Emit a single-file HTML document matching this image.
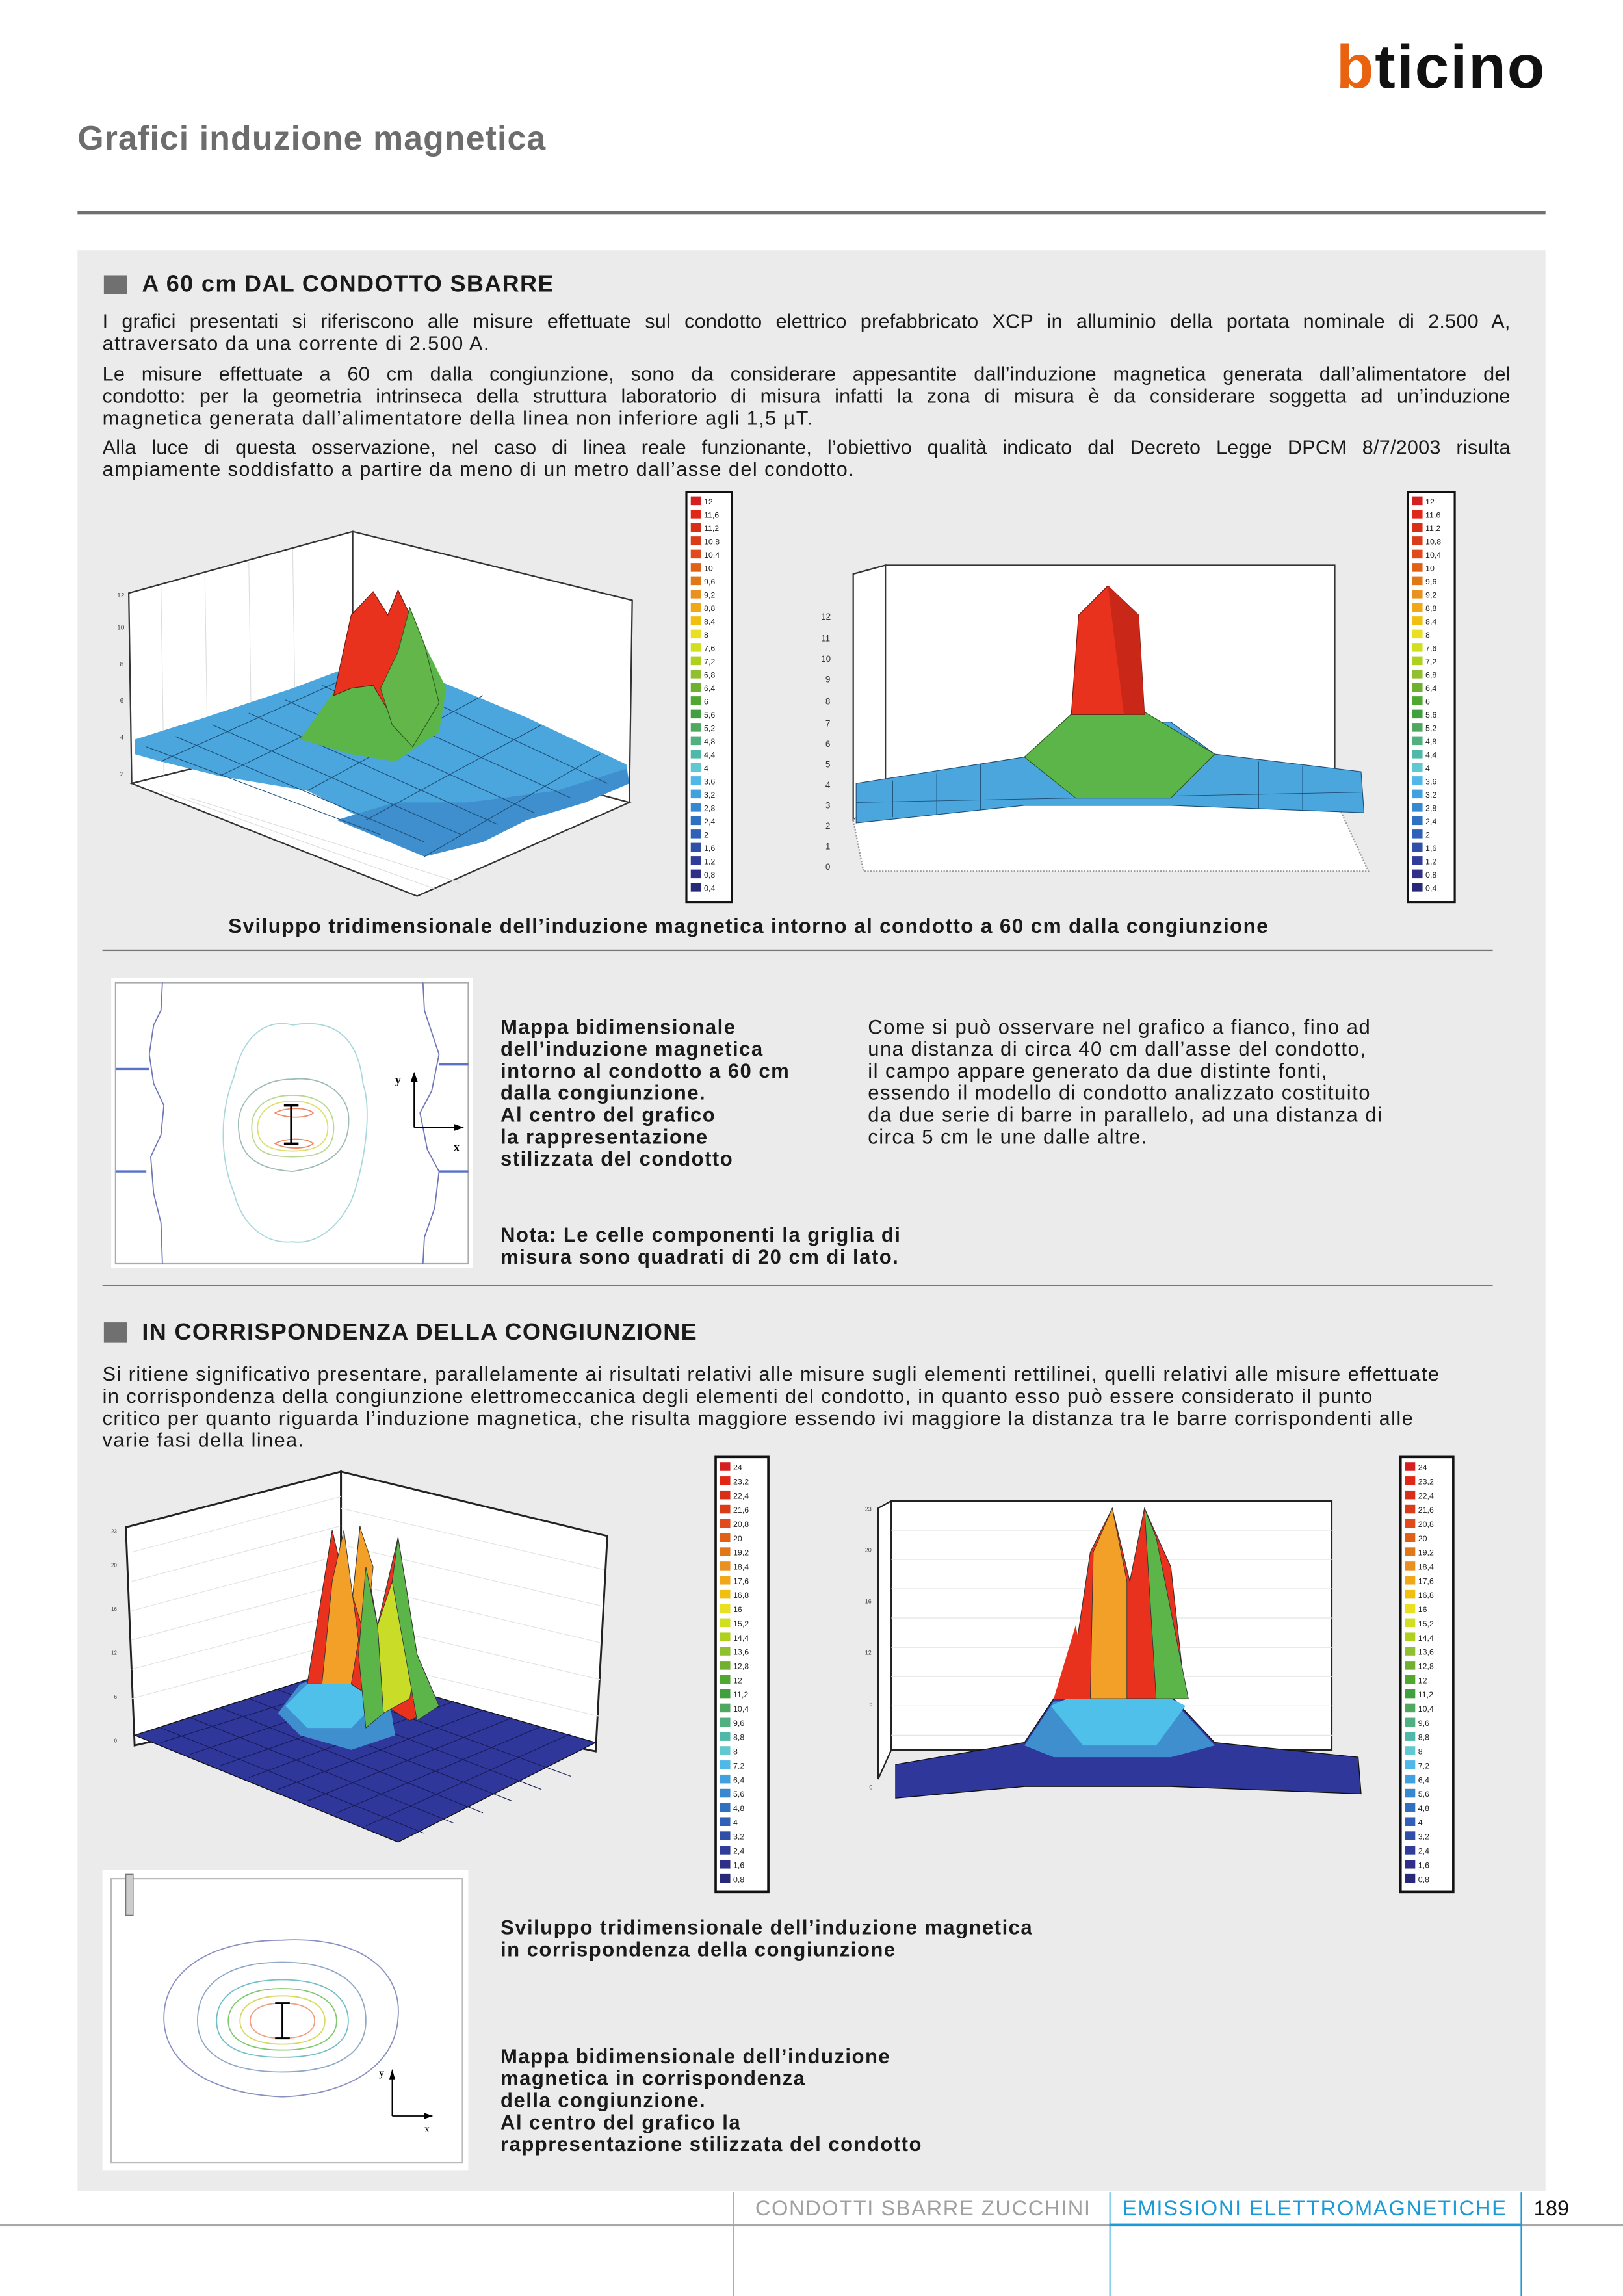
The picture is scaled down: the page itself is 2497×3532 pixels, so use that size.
<!DOCTYPE html>
<html><head><meta charset="utf-8">
<style>
html,body{margin:0;padding:0;background:#fff;}
body{width:2497px;height:3532px;overflow:hidden;position:relative;}
#w{position:absolute;left:0;top:0;width:1109px;height:1568px;transform-origin:0 0;transform:scale(2.2516,2.2526);font-family:"Liberation Sans",Arial,sans-serif;color:#1a1a1a;}
.a{position:absolute;white-space:nowrap;}
.p{font-size:13.6px;line-height:16px;letter-spacing:0.65px;}
.j{width:962px;text-align:justify;text-align-last:justify;letter-spacing:0.1px;}
.b{font-weight:bold;}
.h{font-size:16px;font-weight:bold;letter-spacing:0.6px;}
.lg rect.s{width:7px;height:6px;x:3px;}
.lg text{font-size:5.5px;font-family:"Liberation Sans",sans-serif;fill:#222;}
</style></head><body><div id="w">
<svg class="a" style="left:0;top:0" width="1109" height="1568" viewBox="0 0 1109 1568">
<rect x="53" y="171" width="1003" height="1325" fill="#ebebeb"/>
<rect x="53" y="144" width="1003" height="2.2" fill="#707070"/>
<rect x="71" y="188" width="16" height="13" fill="#707070"/>
<rect x="71" y="903" width="16" height="14" fill="#707070"/>
<rect x="70" y="648.5" width="950" height="1" fill="#777"/>
<rect x="70" y="877.5" width="950" height="1" fill="#777"/>
<!-- footer -->
<rect x="0" y="1519" width="1109" height="1.5" fill="#a8a8a8"/>
<rect x="758" y="1518.5" width="281" height="2" fill="#1a9ad6"/>
<rect x="501" y="1497" width="0.8" height="71" fill="#a8a8a8"/>
<rect x="758" y="1497" width="0.8" height="71" fill="#1a9ad6"/>
<rect x="1039" y="1497" width="0.8" height="71" fill="#1a9ad6"/>

<!-- chart 1 -->
<polygon points="88,405 241,363 241,498 90,535" fill="#fff" stroke="#333" stroke-width="1"/>
<polygon points="241,363 432,410 430,548 241,498" fill="#fff" stroke="#333" stroke-width="1"/>
<polygon points="90,535 241,498 430,548 285,612" fill="#fff" stroke="#333" stroke-width="1"/>
<g stroke="#ddd" stroke-width="0.5">
<line x1="110" y1="400" x2="112" y2="530"/><line x1="140" y1="392" x2="142" y2="523"/><line x1="170" y1="384" x2="172" y2="516"/><line x1="200" y1="375" x2="202" y2="508"/>
<line x1="110" y1="540" x2="300" y2="608"/><line x1="130" y1="545" x2="315" y2="603"/>
</g>
<polygon points="92,505 140,490 200,470 240,455 300,465 360,490 428,522 430,535 400,548 360,560 330,575 290,585 250,560 210,540 150,530 110,520 92,515" fill="#4aa6dc"/>
<polygon points="230,560 290,585 330,575 360,560 400,548 430,535 428,525 380,540 320,548 270,548" fill="#3f8fcf"/>
<g stroke="#1d4f78" stroke-width="0.5" fill="none">
<path d="M100,510 L260,570 M120,503 L290,575 M145,495 L315,570 M170,487 L340,563 M195,478 L365,555 M220,468 L390,545 M250,458 L415,535"/>
<path d="M110,520 L250,457 M150,530 L290,463 M210,540 L330,475 M250,560 L370,495 M290,585 L410,515"/>
</g>
<polygon points="205,505 230,470 255,445 290,440 305,470 300,500 270,520 240,515" fill="#5cb548"/>
<polygon points="228,475 240,420 255,404 265,420 272,403 285,430 290,445 280,470 268,490 255,468 240,470" fill="#e8321e" stroke="#6a1a10" stroke-width="0.5"/>
<polygon points="260,470 272,445 280,415 290,440 300,480 282,510 268,495" fill="#63b64a" stroke="#2d5a20" stroke-width="0.5"/>
<g font-size="4.5" fill="#444" font-family="Liberation Sans"><text x="80" y="408">12</text><text x="80" y="430">10</text><text x="82" y="455">8</text><text x="82" y="480">6</text><text x="82" y="505">4</text><text x="82" y="530">2</text></g>

<!-- chart 2 -->
<polygon points="583,392 605,386 605,545 583,560" fill="#fff" stroke="#333"/>
<rect x="605" y="386" width="307" height="159" fill="#fff" stroke="#333"/>
<polygon points="583,560 605,545 912,545 935,595 590,595" fill="#fff" stroke="#999" stroke-dasharray="1,1"/>
<g font-size="6" fill="#333" font-family="Liberation Sans"><text x="561" y="423">12</text><text x="561" y="438">11</text><text x="561" y="452">10</text><text x="564" y="466">9</text><text x="564" y="481">8</text><text x="564" y="496">7</text><text x="564" y="510">6</text><text x="564" y="524">5</text><text x="564" y="538">4</text><text x="564" y="552">3</text><text x="564" y="566">2</text><text x="564" y="580">1</text><text x="564" y="594">0</text></g>
<polygon points="585,535 700,517 725,495 800,493 830,515 930,527 932,555 800,550 700,550 585,562" fill="#4aa6dc" stroke="#1d4f78" stroke-width="0.5"/>
<g stroke="#1d4f78" stroke-width="0.4"><line x1="610" y1="533" x2="610" y2="558"/><line x1="640" y1="528" x2="640" y2="556"/><line x1="670" y1="522" x2="670" y2="553"/><line x1="860" y1="520" x2="860" y2="552"/><line x1="890" y1="523" x2="890" y2="553"/><line x1="585" y1="548" x2="930" y2="541"/></g>
<polygon points="700,517 735,485 780,485 830,515 800,545 735,545" fill="#5cb548" stroke="#2d5a20" stroke-width="0.5"/>
<polygon points="732,488 737,420 757,400 778,420 782,488" fill="#e8321e" stroke="#6a1a10" stroke-width="0.5"/>
<polygon points="757,400 778,420 782,488 768,488" fill="#c92818"/>

<!-- chart 3 -->
<polygon points="86,1043 233,1005 233,1160 92,1192" fill="#fff" stroke="#222" stroke-width="1.3"/>
<polygon points="233,1005 415,1049 407,1196 233,1160" fill="#fff" stroke="#222" stroke-width="1.3"/>
<g stroke="#e2e2e2" stroke-width="0.5"><path d="M90,1060 L233,1022 M90,1080 L233,1042 M90,1100 L233,1062 M90,1120 L233,1082 M90,1140 L233,1102 M90,1160 L233,1122 M233,1030 L413,1072 M233,1055 L412,1097 M233,1080 L411,1122 M233,1105 L410,1147 M233,1130 L409,1172"/></g>
<polygon points="92,1185 232,1140 407,1190 272,1258" fill="#30379a" stroke="#111" stroke-width="0.6"/>
<g stroke="#171c55" stroke-width="0.5"><path d="M110,1190 L250,1146 M130,1198 L270,1151 M150,1206 L290,1157 M170,1214 L310,1162 M190,1222 L330,1168 M210,1230 L350,1173 M230,1238 L370,1179 M250,1247 L390,1184 M110,1180 L290,1252 M130,1173 L310,1245 M150,1166 L330,1238 M170,1160 L350,1230 M190,1154 L370,1222 M210,1148 L390,1213"/></g>
<polygon points="190,1170 205,1150 240,1140 265,1155 270,1185 240,1195 205,1185" fill="#3f8fcf"/>
<polygon points="195,1165 210,1150 240,1145 255,1165 240,1180 210,1180" fill="#4ec0ea"/>
<polygon points="210,1150 227,1045 240,1100 246,1042 258,1110 272,1050 285,1130 300,1165 280,1175 255,1160 240,1150" fill="#e8321e" stroke="#333" stroke-width="0.5"/>
<polygon points="220,1150 227,1080 235,1045 245,1120 240,1150" fill="#f2a028" stroke="#333" stroke-width="0.4"/>
<polygon points="241,1090 246,1043 255,1070 250,1120" fill="#f2a028" stroke="#333" stroke-width="0.4"/>
<polygon points="258,1110 268,1080 285,1130 280,1160 262,1170" fill="#c8dc28" stroke="#333" stroke-width="0.4"/>
<polygon points="250,1070 258,1110 262,1170 250,1180 245,1130" fill="#5cb548" stroke="#333" stroke-width="0.4"/>
<polygon points="268,1080 272,1050 285,1130 300,1165 285,1175" fill="#5cb548" stroke="#333" stroke-width="0.4"/>
<g font-size="3.5" fill="#444" font-family="Liberation Sans"><text x="76" y="1047">23</text><text x="76" y="1070">20</text><text x="76" y="1100">16</text><text x="76" y="1130">12</text><text x="78" y="1160">6</text><text x="78" y="1190">0</text></g>

<!-- chart 4 -->
<polygon points="600,1030 609,1025 609,1195 600,1215" fill="#fff" stroke="#222"/>
<rect x="609" y="1025" width="301" height="170" fill="#fff" stroke="#222"/>
<g stroke="#e2e2e2" stroke-width="0.5"><path d="M609,1045 H910 M609,1065 H910 M609,1085 H910 M609,1105 H910 M609,1125 H910 M609,1145 H910 M609,1165 H910 M609,1185 H910"/></g>
<g font-size="4" fill="#444" font-family="Liberation Sans"><text x="591" y="1032">23</text><text x="591" y="1060">20</text><text x="591" y="1095">16</text><text x="591" y="1130">12</text><text x="594" y="1165">6</text><text x="594" y="1222">0</text></g>
<polygon points="612,1205 700,1190 720,1160 800,1158 830,1190 928,1200 930,1225 800,1220 700,1220 612,1228" fill="#30379a" stroke="#111" stroke-width="0.6"/>
<polygon points="700,1192 720,1162 800,1160 830,1192 800,1200 720,1200" fill="#3f8fcf"/>
<polygon points="718,1165 740,1155 790,1155 810,1165 790,1192 740,1192" fill="#4ec0ea"/>
<polygon points="730,1160 745,1060 760,1030 772,1080 782,1030 800,1070 810,1160" fill="#e8321e" stroke="#333" stroke-width="0.5"/>
<polygon points="745,1160 747,1060 760,1030 770,1080 770,1160" fill="#f2a028" stroke="#333" stroke-width="0.4"/>
<polygon points="782,1030 790,1050 800,1100 812,1160 790,1160" fill="#5cb548" stroke="#333" stroke-width="0.4"/>
<polygon points="720,1160 735,1110 745,1160" fill="#e8321e"/>

<!-- contour 1 -->
<rect x="76" y="668" width="247" height="198" fill="#fff"/>
<rect x="79" y="671" width="241" height="192" fill="none" stroke="#aaa" stroke-width="1"/>
<g fill="none" stroke-width="0.8">
<path d="M111,671 L110,690 L105,700 L102,720 L105,740 L112,755 L110,775 L103,790 L105,815 L110,835 L111,863" stroke="#7077b8"/>
<path d="M289,671 L290,690 L295,705 L300,720 L295,745 L287,760 L292,785 L300,800 L297,825 L290,845 L289,863" stroke="#7077b8"/>
<path d="M79,730 H102 M79,800 H100 M300,727 H320 M300,800 H320" stroke="#5a72c8" stroke-width="1.5"/>
<path d="M200,700 C230,695 245,710 248,740 C255,760 248,800 240,820 C230,840 215,850 200,848 C180,850 165,835 160,815 C150,790 150,760 160,735 C165,710 180,695 200,700Z" stroke="#a8d8dc"/>
<path d="M200,737 C220,735 235,745 238,760 C240,780 232,795 200,800 C170,798 162,785 163,765 C165,748 180,737 200,737Z" stroke="#9cbcb8"/>
<path d="M200,748 C222,748 228,760 228,770 C228,785 220,790 200,790 C180,790 172,785 172,770 C172,758 180,748 200,748Z" stroke="#b8d890"/>
<path d="M200,752 C218,752 224,762 224,770 C224,780 218,786 200,786 C182,786 176,780 176,770 C176,762 182,752 200,752Z" stroke="#e0e070"/>
<path d="M188,760 C195,756 210,756 214,760 C210,764 195,764 188,760Z M188,781 C195,777 210,777 214,781 C210,785 195,785 188,781Z" stroke="#f08868"/>
</g>
<path d="M194,755 H204 M199,755 V781 M194,781 H204" stroke="#000" stroke-width="1.5" fill="none"/>
<path d="M283,770 V736 M283,770 H313" stroke="#000" stroke-width="0.9" fill="none"/>
<polygon points="280.5,739 283,732 285.5,739" fill="#000"/><polygon points="310,767.5 317,770 310,772.5" fill="#000"/>
<text x="270" y="740" font-family="Liberation Serif" font-weight="bold" font-size="8">y</text>
<text x="310" y="786" font-family="Liberation Serif" font-weight="bold" font-size="8">x</text>

<!-- contour 2 -->
<rect x="70" y="1277" width="250" height="205" fill="#fff"/>
<rect x="76" y="1283" width="240" height="194" fill="none" stroke="#bbb" stroke-width="1"/>
<rect x="86" y="1280" width="5" height="28" fill="#ccc" stroke="#777" stroke-width="0.6"/>
<g fill="none" stroke-width="0.8">
<path d="M193,1325 C245,1322 275,1345 272,1378 C270,1410 240,1430 193,1432 C145,1430 112,1410 112,1378 C112,1345 145,1325 193,1325Z" stroke="#8a90c0"/>
<path d="M193,1340 C230,1340 250,1355 250,1380 C250,1402 230,1415 193,1415 C155,1415 135,1402 135,1380 C135,1355 155,1340 193,1340Z" stroke="#90a8c8"/>
<path d="M193,1352 C225,1352 238,1365 238,1380 C238,1395 225,1405 193,1405 C160,1405 148,1395 148,1380 C148,1365 160,1352 193,1352Z" stroke="#70c0c8"/>
<path d="M193,1358 C218,1358 230,1368 230,1380 C230,1392 218,1400 193,1400 C168,1400 156,1392 156,1380 C156,1368 168,1358 193,1358Z" stroke="#80c870"/>
<path d="M193,1363 C212,1363 222,1370 222,1380 C222,1390 212,1396 193,1396 C174,1396 164,1390 164,1380 C164,1370 174,1363 193,1363Z" stroke="#d8d860"/>
<path d="M193,1368 C208,1368 215,1373 215,1380 C215,1387 208,1392 193,1392 C178,1392 171,1387 171,1380 C171,1373 178,1368 193,1368Z" stroke="#f0a080"/>
</g>
<path d="M188,1368 H198 M193,1368 V1392 M188,1392 H198" stroke="#000" stroke-width="1.3" fill="none"/>
<path d="M268,1445 V1417 M268,1445 H293" stroke="#000" stroke-width="0.8" fill="none"/>
<polygon points="266,1420 268,1413 270,1420" fill="#000"/><polygon points="290,1443 296,1445 290,1447" fill="#000"/>
<text x="259" y="1418" font-family="Liberation Serif" font-size="7">y</text>
<text x="290" y="1456" font-family="Liberation Serif" font-size="7">x</text>

<!-- legends -->
<g class="lg" transform="translate(469,336)"><rect width="31" height="280" fill="#fff" stroke="#111" stroke-width="1.4"/>
<rect class="s" y="3" fill="#d42020"/><rect class="s" y="12.1" fill="#e02818"/><rect class="s" y="21.2" fill="#d83018"/><rect class="s" y="30.3" fill="#d83c18"/><rect class="s" y="39.4" fill="#e04a1c"/><rect class="s" y="48.5" fill="#e06018"/><rect class="s" y="57.6" fill="#e07818"/><rect class="s" y="66.7" fill="#e89020"/><rect class="s" y="75.8" fill="#f0a818"/><rect class="s" y="84.9" fill="#f0c010"/><rect class="s" y="94" fill="#e8e020"/><rect class="s" y="103.1" fill="#d0e020"/><rect class="s" y="112.2" fill="#b0d020"/><rect class="s" y="121.3" fill="#90c030"/><rect class="s" y="130.4" fill="#70b030"/><rect class="s" y="139.5" fill="#50a830"/><rect class="s" y="148.6" fill="#40a040"/><rect class="s" y="157.7" fill="#50a860"/><rect class="s" y="166.8" fill="#50b080"/><rect class="s" y="175.9" fill="#50b8a8"/><rect class="s" y="185" fill="#60c8d0"/><rect class="s" y="194.1" fill="#50b8e8"/><rect class="s" y="203.2" fill="#40a0e0"/><rect class="s" y="212.3" fill="#3888d0"/><rect class="s" y="221.4" fill="#3070c0"/><rect class="s" y="230.5" fill="#3060b8"/><rect class="s" y="239.6" fill="#3050a8"/><rect class="s" y="248.7" fill="#303c98"/><rect class="s" y="257.8" fill="#302e88"/><rect class="s" y="266.9" fill="#282878"/>
<g transform="translate(12,8.5)"><text y="0">12</text><text y="9.1">11,6</text><text y="18.2">11,2</text><text y="27.3">10,8</text><text y="36.4">10,4</text><text y="45.5">10</text><text y="54.6">9,6</text><text y="63.7">9,2</text><text y="72.8">8,8</text><text y="81.9">8,4</text><text y="91">8</text><text y="100.1">7,6</text><text y="109.2">7,2</text><text y="118.3">6,8</text><text y="127.4">6,4</text><text y="136.5">6</text><text y="145.6">5,6</text><text y="154.7">5,2</text><text y="163.8">4,8</text><text y="172.9">4,4</text><text y="182">4</text><text y="191.1">3,6</text><text y="200.2">3,2</text><text y="209.3">2,8</text><text y="218.4">2,4</text><text y="227.5">2</text><text y="236.6">1,6</text><text y="245.7">1,2</text><text y="254.8">0,8</text><text y="263.9">0,4</text></g></g>

<g class="lg" transform="translate(962,336)"><rect width="32" height="280" fill="#fff" stroke="#111" stroke-width="1.4"/>
<rect class="s" y="3" fill="#d42020"/><rect class="s" y="12.1" fill="#e02818"/><rect class="s" y="21.2" fill="#d83018"/><rect class="s" y="30.3" fill="#d83c18"/><rect class="s" y="39.4" fill="#e04a1c"/><rect class="s" y="48.5" fill="#e06018"/><rect class="s" y="57.6" fill="#e07818"/><rect class="s" y="66.7" fill="#e89020"/><rect class="s" y="75.8" fill="#f0a818"/><rect class="s" y="84.9" fill="#f0c010"/><rect class="s" y="94" fill="#e8e020"/><rect class="s" y="103.1" fill="#d0e020"/><rect class="s" y="112.2" fill="#b0d020"/><rect class="s" y="121.3" fill="#90c030"/><rect class="s" y="130.4" fill="#70b030"/><rect class="s" y="139.5" fill="#50a830"/><rect class="s" y="148.6" fill="#40a040"/><rect class="s" y="157.7" fill="#50a860"/><rect class="s" y="166.8" fill="#50b080"/><rect class="s" y="175.9" fill="#50b8a8"/><rect class="s" y="185" fill="#60c8d0"/><rect class="s" y="194.1" fill="#50b8e8"/><rect class="s" y="203.2" fill="#40a0e0"/><rect class="s" y="212.3" fill="#3888d0"/><rect class="s" y="221.4" fill="#3070c0"/><rect class="s" y="230.5" fill="#3060b8"/><rect class="s" y="239.6" fill="#3050a8"/><rect class="s" y="248.7" fill="#303c98"/><rect class="s" y="257.8" fill="#302e88"/><rect class="s" y="266.9" fill="#282878"/>
<g transform="translate(12,8.5)"><text y="0">12</text><text y="9.1">11,6</text><text y="18.2">11,2</text><text y="27.3">10,8</text><text y="36.4">10,4</text><text y="45.5">10</text><text y="54.6">9,6</text><text y="63.7">9,2</text><text y="72.8">8,8</text><text y="81.9">8,4</text><text y="91">8</text><text y="100.1">7,6</text><text y="109.2">7,2</text><text y="118.3">6,8</text><text y="127.4">6,4</text><text y="136.5">6</text><text y="145.6">5,6</text><text y="154.7">5,2</text><text y="163.8">4,8</text><text y="172.9">4,4</text><text y="182">4</text><text y="191.1">3,6</text><text y="200.2">3,2</text><text y="209.3">2,8</text><text y="218.4">2,4</text><text y="227.5">2</text><text y="236.6">1,6</text><text y="245.7">1,2</text><text y="254.8">0,8</text><text y="263.9">0,4</text></g></g>

<g class="lg" transform="translate(489,995)"><rect width="36" height="297" fill="#fff" stroke="#111" stroke-width="1.6"/>
<rect class="s" y="3.5" fill="#d42020"/><rect class="s" y="13.2" fill="#e02818"/><rect class="s" y="22.9" fill="#d83018"/><rect class="s" y="32.6" fill="#d83c18"/><rect class="s" y="42.3" fill="#e04a1c"/><rect class="s" y="52" fill="#e06018"/><rect class="s" y="61.7" fill="#e07818"/><rect class="s" y="71.4" fill="#e89020"/><rect class="s" y="81.1" fill="#f0a818"/><rect class="s" y="90.8" fill="#f0c010"/><rect class="s" y="100.5" fill="#e8e020"/><rect class="s" y="110.2" fill="#d0e020"/><rect class="s" y="119.9" fill="#b0d020"/><rect class="s" y="129.6" fill="#90c030"/><rect class="s" y="139.3" fill="#70b030"/><rect class="s" y="149" fill="#50a830"/><rect class="s" y="158.7" fill="#40a040"/><rect class="s" y="168.4" fill="#50a860"/><rect class="s" y="178.1" fill="#50b080"/><rect class="s" y="187.8" fill="#50b8a8"/><rect class="s" y="197.5" fill="#60c8d0"/><rect class="s" y="207.2" fill="#50b8e8"/><rect class="s" y="216.9" fill="#40a0e0"/><rect class="s" y="226.6" fill="#3888d0"/><rect class="s" y="236.3" fill="#3070c0"/><rect class="s" y="246" fill="#3060b8"/><rect class="s" y="255.7" fill="#3050a8"/><rect class="s" y="265.4" fill="#303c98"/><rect class="s" y="275.1" fill="#302e88"/><rect class="s" y="284.8" fill="#282878"/>
<g transform="translate(12,9)"><text y="0">24</text><text y="9.7">23,2</text><text y="19.4">22,4</text><text y="29.1">21,6</text><text y="38.8">20,8</text><text y="48.5">20</text><text y="58.2">19,2</text><text y="67.9">18,4</text><text y="77.6">17,6</text><text y="87.3">16,8</text><text y="97">16</text><text y="106.7">15,2</text><text y="116.4">14,4</text><text y="126.1">13,6</text><text y="135.8">12,8</text><text y="145.5">12</text><text y="155.2">11,2</text><text y="164.9">10,4</text><text y="174.6">9,6</text><text y="184.3">8,8</text><text y="194">8</text><text y="203.7">7,2</text><text y="213.4">6,4</text><text y="223.1">5,6</text><text y="232.8">4,8</text><text y="242.5">4</text><text y="252.2">3,2</text><text y="261.9">2,4</text><text y="271.6">1,6</text><text y="281.3">0,8</text></g></g>

<g class="lg" transform="translate(957,995)"><rect width="36" height="297" fill="#fff" stroke="#111" stroke-width="1.6"/>
<rect class="s" y="3.5" fill="#d42020"/><rect class="s" y="13.2" fill="#e02818"/><rect class="s" y="22.9" fill="#d83018"/><rect class="s" y="32.6" fill="#d83c18"/><rect class="s" y="42.3" fill="#e04a1c"/><rect class="s" y="52" fill="#e06018"/><rect class="s" y="61.7" fill="#e07818"/><rect class="s" y="71.4" fill="#e89020"/><rect class="s" y="81.1" fill="#f0a818"/><rect class="s" y="90.8" fill="#f0c010"/><rect class="s" y="100.5" fill="#e8e020"/><rect class="s" y="110.2" fill="#d0e020"/><rect class="s" y="119.9" fill="#b0d020"/><rect class="s" y="129.6" fill="#90c030"/><rect class="s" y="139.3" fill="#70b030"/><rect class="s" y="149" fill="#50a830"/><rect class="s" y="158.7" fill="#40a040"/><rect class="s" y="168.4" fill="#50a860"/><rect class="s" y="178.1" fill="#50b080"/><rect class="s" y="187.8" fill="#50b8a8"/><rect class="s" y="197.5" fill="#60c8d0"/><rect class="s" y="207.2" fill="#50b8e8"/><rect class="s" y="216.9" fill="#40a0e0"/><rect class="s" y="226.6" fill="#3888d0"/><rect class="s" y="236.3" fill="#3070c0"/><rect class="s" y="246" fill="#3060b8"/><rect class="s" y="255.7" fill="#3050a8"/><rect class="s" y="265.4" fill="#303c98"/><rect class="s" y="275.1" fill="#302e88"/><rect class="s" y="284.8" fill="#282878"/>
<g transform="translate(12,9)"><text y="0">24</text><text y="9.7">23,2</text><text y="19.4">22,4</text><text y="29.1">21,6</text><text y="38.8">20,8</text><text y="48.5">20</text><text y="58.2">19,2</text><text y="67.9">18,4</text><text y="77.6">17,6</text><text y="87.3">16,8</text><text y="97">16</text><text y="106.7">15,2</text><text y="116.4">14,4</text><text y="126.1">13,6</text><text y="135.8">12,8</text><text y="145.5">12</text><text y="155.2">11,2</text><text y="164.9">10,4</text><text y="174.6">9,6</text><text y="184.3">8,8</text><text y="194">8</text><text y="203.7">7,2</text><text y="213.4">6,4</text><text y="223.1">5,6</text><text y="232.8">4,8</text><text y="242.5">4</text><text y="252.2">3,2</text><text y="261.9">2,4</text><text y="271.6">1,6</text><text y="281.3">0,8</text></g></g>
</svg>

<div class="a b" style="left:913px;top:22px;font-size:42px;letter-spacing:0.8px;line-height:48px;"><span style="color:#e8620f">b</span><span style="color:#111">ticino</span></div>
<div class="a b" style="left:53px;top:79px;font-size:23px;color:#6d6d6d;line-height:30px;letter-spacing:0.5px;">Grafici induzione magnetica</div>

<div class="a h" style="left:97px;top:185px;line-height:20px;">A 60 cm DAL CONDOTTO SBARRE</div>
<div class="a p j" style="left:70px;top:212px;">I grafici presentati si riferiscono alle misure effettuate sul condotto elettrico prefabbricato XCP in alluminio della portata nominale di 2.500 A,</div>
<div class="a p" style="left:70px;top:227px;">attraversato da una corrente di 2.500 A.</div>
<div class="a p j" style="left:70px;top:248px;">Le misure effettuate a 60 cm dalla congiunzione, sono da considerare appesantite dall’induzione magnetica generata dall’alimentatore del</div>
<div class="a p j" style="left:70px;top:263px;">condotto: per la geometria intrinseca della struttura laboratorio di misura infatti la zona di misura è da considerare soggetta ad un’induzione</div>
<div class="a p" style="left:70px;top:278px;">magnetica generata dall’alimentatore della linea non inferiore agli 1,5 µT.</div>
<div class="a p j" style="left:70px;top:298px;">Alla luce di questa osservazione, nel caso di linea reale funzionante, l’obiettivo qualità indicato dal Decreto Legge DPCM 8/7/2003 risulta</div>
<div class="a p" style="left:70px;top:313px;">ampiamente soddisfatto a partire da meno di un metro dall’asse del condotto.</div>

<div class="a p b" style="left:156px;top:624px;font-size:14px;letter-spacing:0.6px;">Sviluppo tridimensionale dell’induzione magnetica intorno al condotto a 60 cm dalla congiunzione</div>

<div class="a p b" style="left:342px;top:694px;line-height:15px;font-size:13.8px;">Mappa bidimensionale<br>dell’induzione magnetica<br>intorno al condotto a 60 cm<br>dalla congiunzione.<br>Al centro del grafico<br>la rappresentazione<br>stilizzata del condotto</div>
<div class="a p" style="left:593px;top:694px;line-height:15px;font-size:13.8px;">Come si può osservare nel grafico a fianco, fino ad<br>una distanza di circa 40 cm dall’asse del condotto,<br>il campo appare generato da due distinte fonti,<br>essendo il modello di condotto analizzato costituito<br>da due serie di barre in parallelo, ad una distanza di<br>circa 5 cm le une dalle altre.</div>
<div class="a p b" style="left:342px;top:836px;line-height:15px;font-size:13.8px;">Nota: Le celle componenti la griglia di<br>misura sono quadrati di 20 cm di lato.</div>

<div class="a h" style="left:97px;top:901px;line-height:20px;">IN CORRISPONDENZA DELLA CONGIUNZIONE</div>
<div class="a p" style="left:70px;top:931px;line-height:15px;">Si ritiene significativo presentare, parallelamente ai risultati relativi alle misure sugli elementi rettilinei, quelli relativi alle misure effettuate<br>in corrispondenza della congiunzione elettromeccanica degli elementi del condotto, in quanto esso può essere considerato il punto<br>critico per quanto riguarda l’induzione magnetica, che risulta maggiore essendo ivi maggiore la distanza tra le barre corrispondenti alle<br>varie fasi della linea.</div>

<div class="a p b" style="left:342px;top:1309px;line-height:15px;font-size:13.8px;">Sviluppo tridimensionale dell’induzione magnetica<br>in corrispondenza della congiunzione</div>
<div class="a p b" style="left:342px;top:1397px;line-height:15px;font-size:13.8px;">Mappa bidimensionale dell’induzione<br>magnetica in corrispondenza<br>della congiunzione.<br>Al centro del grafico la<br>rappresentazione stilizzata del condotto</div>

<div class="a" style="left:516px;top:1500px;font-size:14.5px;color:#a0a0a0;line-height:18px;letter-spacing:0.7px;">CONDOTTI SBARRE ZUCCHINI</div>
<div class="a" style="left:767px;top:1500px;font-size:14.5px;color:#1a9ad6;line-height:18px;letter-spacing:0.75px;">EMISSIONI ELETTROMAGNETICHE</div>
<div class="a" style="left:1048px;top:1500px;font-size:14.5px;color:#111;line-height:18px;">189</div>
</div></body></html>
